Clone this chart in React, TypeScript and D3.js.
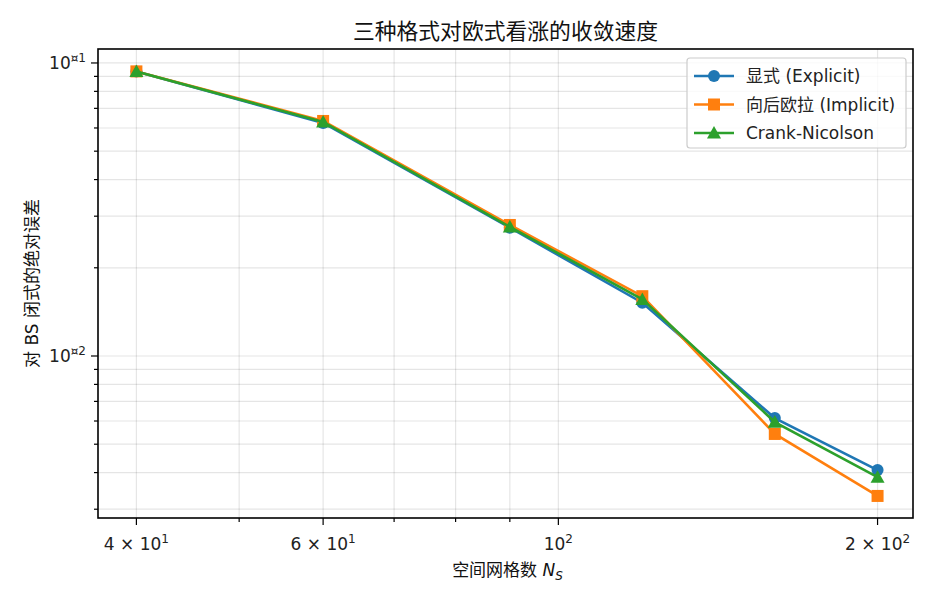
import React from 'react';
import * as d3 from 'd3';

const gridSizes = [40, 60, 90, 120, 160, 200];
const explicitErr = [0.0936, 0.0624, 0.0274, 0.0152, 0.00614, 0.00408];
const implicitErr = [0.0936, 0.0634, 0.0280, 0.0160, 0.00542, 0.00333];
const cnErr = [0.0936, 0.0629, 0.0276, 0.0156, 0.00595, 0.00386];

const seriesNames = ['显式 (Explicit)', '向后欧拉 (Implicit)', 'Crank-Nicolson'];
const seriesColors = ['#1f77b4', '#ff7f0e', '#2ca02c'];
const seriesMarkers = ['circle', 'square', 'triangle'];

const xMajor = [100];
const xLabeled = [40, 60, 100, 200];
const xMinor = [40, 50, 60, 70, 80, 90, 200];
const yMajor = [0.01, 0.1];
const yMinor = [0.003, 0.004, 0.005, 0.006, 0.007, 0.008, 0.009, 0.02, 0.03, 0.04, 0.05, 0.06, 0.07, 0.08, 0.09];

const W = 936, H = 598;
const m = { left: 98, right: 913, top: 49, bottom: 518 };
const font = '"DejaVu Sans", "Noto Sans CJK SC", sans-serif';
const fs = 17;
const sup = 12;

const Marker = ({ kind, x, y, color }: { kind: string; x: number; y: number; color: string }) => {
  if (kind === 'circle') return <circle cx={x} cy={y} r={6} fill={color} />;
  if (kind === 'square') return <rect x={x - 6} y={y - 6} width={12} height={12} fill={color} />;
  const s = 7;
  return <path d={`M${x},${y - s}L${x + s},${y + s * 0.8}L${x - s},${y + s * 0.8}Z`} fill={color} />;
};

const xLabel = (v: number) => {
  if (v === 100) return { base: '10', exp: '2', pre: '' };
  if (v === 200) return { base: '10', exp: '2', pre: '2 × ' };
  return { base: '10', exp: '1', pre: `${v / 10} × ` };
};

export default function App() {
  const x = d3.scaleLog().domain([36.8, 216]).range([m.left, m.right]);
  const y = d3.scaleLog().domain([0.00280, 0.1116]).range([m.bottom, m.top]);
  const series = [explicitErr, implicitErr, cnErr];
  const line = d3.line<number>().x((_, i) => x(gridSizes[i])).y(d => y(d));

  return (
    <svg width={W} height={H} style={{ position: 'absolute', left: 0, top: 0, background: '#fff' }} fontFamily={font}>
      <rect width={W} height={H} fill="#fff" />
      {/* grid */}
      {[...xMinor, ...xMajor].map(v => (
        <line key={'gx' + v} x1={x(v)} x2={x(v)} y1={m.top} y2={m.bottom} stroke="#000" strokeOpacity={0.1} strokeWidth={1.2} />
      ))}
      {[...yMinor, ...yMajor].map(v => (
        <line key={'gy' + v} x1={m.left} x2={m.right} y1={y(v)} y2={y(v)} stroke="#000" strokeOpacity={0.1} strokeWidth={1.2} />
      ))}
      {/* series */}
      {series.map((s, k) => (
        <g key={k}>
          <path d={line(s) || ''} fill="none" stroke={seriesColors[k]} strokeWidth={2.6} />
          {s.map((v, i) => (
            <Marker key={i} kind={seriesMarkers[k]} x={x(gridSizes[i])} y={y(v)} color={seriesColors[k]} />
          ))}
        </g>
      ))}
      {/* frame */}
      <rect x={m.left} y={m.top} width={m.right - m.left} height={m.bottom - m.top} fill="none" stroke="#000" strokeWidth={1.6} />
      {/* x ticks */}
      {xMinor.concat(xMajor).map(v => (
        <line key={'tx' + v} x1={x(v)} x2={x(v)} y1={m.bottom} y2={m.bottom + (xLabeled.includes(v) ? 7 : 4)} stroke="#000" strokeWidth={1.2} />
      ))}
      {xLabeled.map(v => {
        const l = xLabel(v);
        return (
          <text key={'lx' + v} x={x(v)} y={m.bottom + 32} textAnchor="middle" fontSize={fs} fill="#222">
            {l.pre}{l.base}<tspan dy={-7} fontSize={sup}>{l.exp}</tspan>
          </text>
        );
      })}
      {/* y ticks */}
      {yMinor.map(v => (
        <line key={'ty' + v} x1={m.left - 4} x2={m.left} y1={y(v)} y2={y(v)} stroke="#000" strokeWidth={1.2} />
      ))}
      {yMajor.map(v => (
        <g key={'my' + v}>
          <line x1={m.left - 7} x2={m.left} y1={y(v)} y2={y(v)} stroke="#000" strokeWidth={1.2} />
          <text x={m.left - 12} y={y(v) + 6} textAnchor="end" fontSize={fs} fill="#222">
            10<tspan dy={-7} fontSize={sup}>{'¤' + (v === 0.1 ? '1' : '2')}</tspan>
          </text>
        </g>
      ))}
      {/* labels */}
      <text x={(m.left + m.right) / 2} y={39} textAnchor="middle" fontSize={21.8} fill="#111">三种格式对欧式看涨的收敛速度</text>
      <text x={(m.left + m.right) / 2 + 2} y={576} textAnchor="middle" fontSize={fs} fill="#111">
        空间网格数 <tspan fontStyle="italic">N</tspan><tspan fontStyle="italic" fontSize={sup} dy={4}>S</tspan>
      </text>
      <text transform={`translate(38,${(m.top + m.bottom) / 2}) rotate(-90)`} textAnchor="middle" fontSize={fs} fill="#111">
        对 BS 闭式的绝对误差
      </text>
      {/* legend */}
      <g>
        <rect x={687} y={58} width={219} height={90} rx={3} fill="#fff" fillOpacity={0.8} stroke="#ccc" strokeWidth={1.2} />
        {seriesNames.map((n, k) => {
          const ly = 76 + k * 28.5;
          return (
            <g key={n}>
              <line x1={694} x2={734} y1={ly} y2={ly} stroke={seriesColors[k]} strokeWidth={2.6} />
              <Marker kind={seriesMarkers[k]} x={714} y={ly} color={seriesColors[k]} />
              <text x={746} y={ly + 6} fontSize={fs} fill="#222">{n}</text>
            </g>
          );
        })}
      </g>
    </svg>
  );
}
